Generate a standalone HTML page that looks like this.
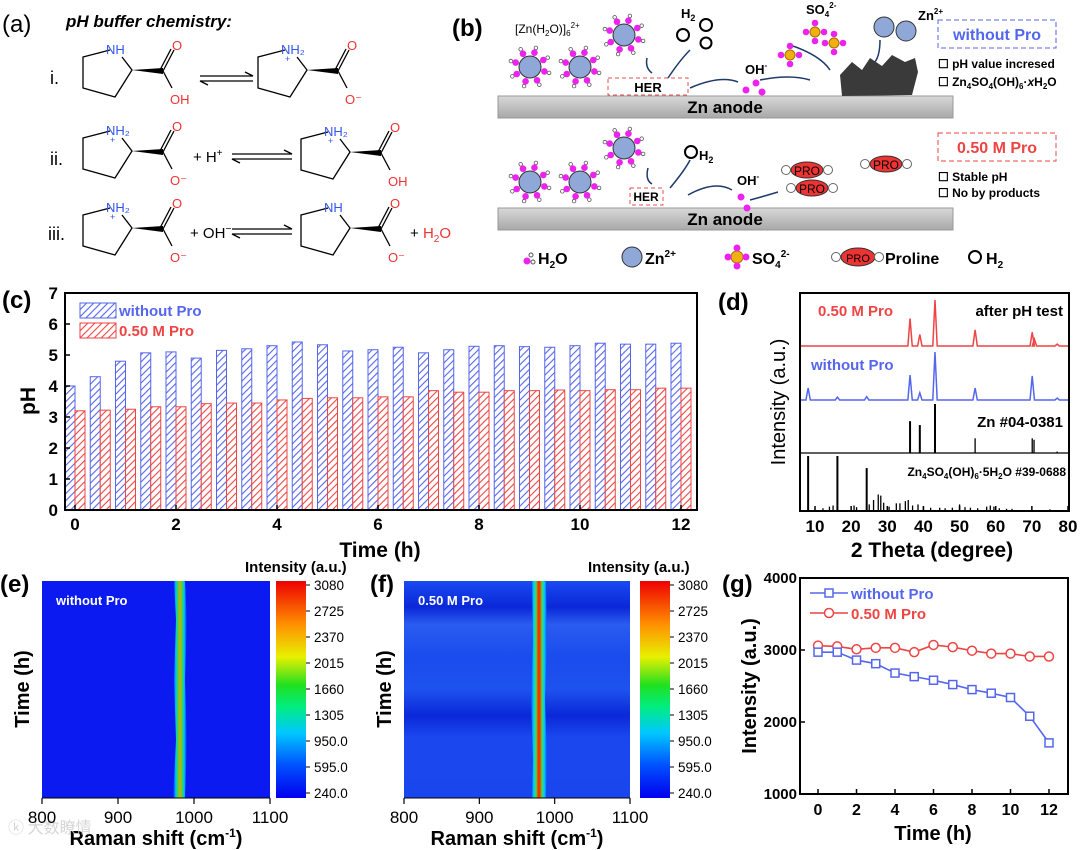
<!DOCTYPE html>
<html><head><meta charset="utf-8"><style>
body{margin:0;background:#fff;}
svg{display:block;font-family:"Liberation Sans",Arial,sans-serif;}
.b{font-weight:bold;}
</style></head><body>
<svg id="root" width="1080" height="850" viewBox="0 0 1080 850" xmlns="http://www.w3.org/2000/svg">
<defs>
<pattern id="hb" patternUnits="userSpaceOnUse" width="5" height="5" patternTransform="rotate(45)"><rect width="5" height="5" fill="#fff"/><line x1="0" y1="0" x2="0" y2="5" stroke="#5566ee" stroke-width="2.2"/></pattern>
<pattern id="hr" patternUnits="userSpaceOnUse" width="5" height="5" patternTransform="rotate(45)"><rect width="5" height="5" fill="#fff"/><line x1="0" y1="0" x2="0" y2="5" stroke="#ee4444" stroke-width="2.2"/></pattern>
<linearGradient id="jet" x1="0" y1="1" x2="0" y2="0">
<stop offset="0" stop-color="#0000ee"/><stop offset="0.15" stop-color="#0050ff"/><stop offset="0.3" stop-color="#00c8ff"/><stop offset="0.42" stop-color="#00ee80"/><stop offset="0.52" stop-color="#20e020"/><stop offset="0.65" stop-color="#e8f000"/><stop offset="0.8" stop-color="#ff9000"/><stop offset="1" stop-color="#ee0000"/></linearGradient>
<linearGradient id="peakE" x1="0" y1="0" x2="1" y2="0">
<stop offset="0" stop-color="#0a1af0"/><stop offset="0.2" stop-color="#00c0ff"/><stop offset="0.35" stop-color="#30e040"/><stop offset="0.5" stop-color="#f0a000"/><stop offset="0.65" stop-color="#30e040"/><stop offset="0.8" stop-color="#00c0ff"/><stop offset="1" stop-color="#0a1af0"/></linearGradient>
<linearGradient id="peakF" x1="0" y1="0" x2="1" y2="0">
<stop offset="0" stop-color="#1848f0"/><stop offset="0.18" stop-color="#00d0ff"/><stop offset="0.32" stop-color="#40e040"/><stop offset="0.45" stop-color="#ff3000"/><stop offset="0.55" stop-color="#ff3000"/><stop offset="0.68" stop-color="#40e040"/><stop offset="0.82" stop-color="#00d0ff"/><stop offset="1" stop-color="#1848f0"/></linearGradient>
<linearGradient id="bandF" x1="0" y1="0" x2="0" y2="1">
<stop offset="0" stop-color="#1a4af0"/><stop offset="0.12" stop-color="#0a28d8"/><stop offset="0.2" stop-color="#2a5cf0"/><stop offset="0.35" stop-color="#1a4cee"/><stop offset="0.5" stop-color="#1e52ee"/><stop offset="0.62" stop-color="#0a28d8"/><stop offset="0.72" stop-color="#1a48ee"/><stop offset="1" stop-color="#1a46ee"/></linearGradient>
<linearGradient id="bar" x1="0" y1="0" x2="0" y2="1"><stop offset="0" stop-color="#d8d8d8"/><stop offset="1" stop-color="#a8a8a8"/></linearGradient>
</defs>

<!-- Panel (a) -->
<g>
<text x="2" y="32" font-size="24">(a)</text>
<text x="66" y="27" font-size="17" class="b" font-style="italic">pH buffer chemistry:</text>
<text x="50" y="84" font-size="18">i.</text>
<text x="50" y="165" font-size="18">ii.</text>
<text x="48" y="240" font-size="18">iii.</text>
<g id="mols"></g>
<g stroke="#000" stroke-width="1.3" fill="none">
<path d="M200 76 H253 L245 72"/><path d="M253 81 H200 L208 85"/>
<path d="M232 154 H292 L284 150"/><path d="M292 159 H232 L240 163"/>
<path d="M232 229 H292 L284 225"/><path d="M292 234 H232 L240 238"/>
</g>
<text x="193" y="162" font-size="15">+ H<tspan font-size="10" dy="-6">+</tspan></text>
<text x="190" y="238" font-size="15">+ OH<tspan font-size="10" dy="-6">−</tspan></text>
<text x="410" y="238" font-size="15">+ <tspan fill="#ee3333">H<tspan font-size="10" dy="4">2</tspan><tspan dy="-4">O</tspan></tspan></text>
</g>

<!-- Panel (b) -->
<g>
<text x="452" y="36" font-size="24" class="b">(b)</text>
<rect x="498" y="96" width="455" height="22" fill="url(#bar)" stroke="#999"/>
<text x="725" y="113" font-size="17" class="b" text-anchor="middle">Zn anode</text>
<rect x="498" y="208" width="455" height="22" fill="url(#bar)" stroke="#999"/>
<text x="725" y="225" font-size="17" class="b" text-anchor="middle">Zn anode</text>
<text x="515" y="33" font-size="12">[Zn(H<tspan font-size="8" dy="3">2</tspan><tspan dy="-3">O)]</tspan><tspan font-size="8" dy="3">6</tspan><tspan font-size="8" dy="-8">2+</tspan></text>
<g id="clusters"></g>
<rect x="608" y="78" width="80" height="17" fill="none" stroke="#e05050" stroke-dasharray="4,3"/>
<text x="648" y="92" font-size="13" class="b" text-anchor="middle">HER</text>
<rect x="630" y="188" width="33" height="17" fill="none" stroke="#e05050" stroke-dasharray="4,3"/>
<text x="646" y="201" font-size="12" class="b" text-anchor="middle">HER</text>
<g fill="none" stroke="#000" stroke-width="2">
<circle cx="683" cy="35" r="6"/><circle cx="706" cy="25" r="6"/><circle cx="706" cy="43" r="5.5"/><circle cx="691" cy="152" r="6"/><circle cx="975" cy="257" r="6"/>
</g>
<text x="681" y="18" font-size="13" class="b">H<tspan font-size="9" dy="3">2</tspan></text>
<text x="699" y="160" font-size="13" class="b">H<tspan font-size="9" dy="3">2</tspan></text>
<g fill="none" stroke="#1f3a6a" stroke-width="1.5">
<path d="M647 58 Q645 68 652 73"/><path d="M668 78 Q680 60 690 50"/><path d="M690 88 Q720 75 738 82"/>
<path d="M760 80 Q790 74 810 80"/><path d="M790 45 Q820 55 830 70"/><path d="M880 40 Q880 55 875 62"/>
<path d="M648 168 Q645 180 652 184"/><path d="M670 188 Q685 170 690 160"/><path d="M688 195 Q715 180 732 190"/><path d="M750 200 Q765 196 778 192"/>
</g>
<text x="745" y="74" font-size="13" class="b">OH<tspan font-size="8" dy="-6">-</tspan></text>
<text x="737" y="185" font-size="13" class="b">OH<tspan font-size="8" dy="-6">-</tspan></text>
<g fill="#ee22ee"><circle cx="746" cy="90" r="3.5"/><circle cx="756" cy="83" r="3.5"/><circle cx="762" cy="92" r="3.5"/><circle cx="741" cy="197" r="3.5"/><circle cx="747" cy="208" r="3.5"/></g>
<text x="806" y="14" font-size="13" class="b">SO<tspan font-size="8" dy="3">4</tspan><tspan font-size="8" dy="-9">2-</tspan></text>
<g id="so4"></g>
<circle cx="884" cy="27" r="10" fill="#8fa8d8" stroke="#333"/>
<circle cx="906" cy="31" r="10" fill="#8fa8d8" stroke="#333"/>
<text x="918" y="20" font-size="13" class="b">Zn<tspan font-size="8" dy="-6">2+</tspan></text>
<path d="M840 75 L852 62 L862 70 L870 58 L882 66 L892 55 L905 62 L915 58 L918 72 L912 95 L842 96 Z" fill="#3a3a3a"/>
<rect x="938" y="20" width="118" height="28" fill="none" stroke="#5566ee" stroke-dasharray="5,3"/>
<text x="997" y="40" font-size="16" class="b" fill="#5566ee" text-anchor="middle">without Pro</text>
<text x="938" y="68" font-size="12" class="b">☐ pH value incresed</text>
<text x="938" y="86" font-size="12" class="b">☐ Zn<tspan font-size="8" dy="3">4</tspan><tspan dy="-3">SO</tspan><tspan font-size="8" dy="3">4</tspan><tspan dy="-3">(OH)</tspan><tspan font-size="8" dy="3">6</tspan><tspan dy="-3">·</tspan><tspan font-style="italic">x</tspan>H<tspan font-size="8" dy="3">2</tspan><tspan dy="-3">O</tspan></text>
<rect x="938" y="133" width="118" height="28" fill="none" stroke="#ee4444" stroke-dasharray="5,3"/>
<text x="997" y="153" font-size="16" class="b" fill="#ee4444" text-anchor="middle">0.50 M Pro</text>
<text x="938" y="181" font-size="12" class="b">☐ Stable pH</text>
<text x="938" y="197" font-size="12" class="b">☐ No by products</text>
<g id="pros"></g>
<g>
<circle cx="527" cy="261" r="3.5" fill="#ee22ee"/><circle cx="531" cy="255" r="2" fill="#fff" stroke="#555"/><circle cx="533" cy="262" r="2" fill="#fff" stroke="#555"/>
<text x="538" y="264" font-size="16" class="b">H<tspan font-size="10" dy="4">2</tspan><tspan dy="-4">O</tspan></text>
<circle cx="632" cy="257" r="10" fill="#8fa8d8" stroke="#333"/>
<text x="645" y="264" font-size="16" class="b">Zn<tspan font-size="10" dy="-7">2+</tspan></text>
<circle cx="737" cy="257" r="6" fill="#f0b010" stroke="#a07000"/><circle cx="737" cy="248" r="3.5" fill="#ee22ee"/><circle cx="737" cy="266" r="3.5" fill="#ee22ee"/><circle cx="728" cy="257" r="3.5" fill="#ee22ee"/><circle cx="746" cy="257" r="3.5" fill="#ee22ee"/>
<text x="752" y="264" font-size="16" class="b">SO<tspan font-size="10" dy="4">4</tspan><tspan font-size="10" dy="-11">2-</tspan></text>
<circle cx="836" cy="257" r="4.5" fill="#fff" stroke="#666"/><ellipse cx="858" cy="257" rx="17" ry="9" fill="#ee3333" stroke="#333"/><text x="858" y="262" font-size="11" text-anchor="middle">PRO</text><circle cx="879" cy="257" r="4.5" fill="#fff" stroke="#666"/>
<text x="885" y="264" font-size="16" class="b">Proline</text>
<text x="986" y="264" font-size="16" class="b">H<tspan font-size="10" dy="4">2</tspan></text>
</g>
</g>

<!-- Panel (c) -->
<g>
<text x="2" y="308" font-size="24" class="b">(c)</text>
<g id="cbars"></g>
<rect x="65" y="293" width="632" height="217" fill="none" stroke="#000" stroke-width="2"/>
<g id="caxes"></g>
<rect x="80" y="303" width="36" height="15" fill="url(#hb)" stroke="#5566ee"/>
<text x="119" y="316" font-size="15" class="b" fill="#5566ee">without Pro</text>
<rect x="80" y="323" width="36" height="15" fill="url(#hr)" stroke="#ee4444"/>
<text x="119" y="336" font-size="15" class="b" fill="#ee4444">0.50 M Pro</text>
<text x="380" y="557" font-size="21" class="b" text-anchor="middle">Time (h)</text>
<text transform="translate(35,401) rotate(-90)" font-size="21" class="b" text-anchor="middle">pH</text>
</g>

<!-- Panel (d) -->
<g>
<text x="718" y="310" font-size="24" class="b">(d)</text>
<g id="dplot"></g>
<rect x="800" y="293" width="269" height="218" fill="none" stroke="#000" stroke-width="2"/>
<line x1="800" y1="453" x2="1069" y2="453" stroke="#000" stroke-width="1.2"/>
<text x="818" y="316" font-size="15" class="b" fill="#ee4444">0.50 M Pro</text>
<text x="1063" y="316" font-size="15" class="b" text-anchor="end">after pH test</text>
<text x="811" y="370" font-size="15" class="b" fill="#5566ee">without Pro</text>
<text x="1063" y="427" font-size="15" class="b" text-anchor="end">Zn #04-0381</text>
<text x="1066" y="476" font-size="12" class="b" text-anchor="end">Zn<tspan font-size="8" dy="3">4</tspan><tspan dy="-3">SO</tspan><tspan font-size="8" dy="3">4</tspan><tspan dy="-3">(OH)</tspan><tspan font-size="8" dy="3">6</tspan><tspan dy="-3">·5H</tspan><tspan font-size="8" dy="3">2</tspan><tspan dy="-3">O #39-0688</tspan></text>
<text x="932" y="557" font-size="21" class="b" text-anchor="middle">2 Theta (degree)</text>
<text transform="translate(785,402) rotate(-90)" font-size="20" text-anchor="middle">Intensity (a.u.)</text>
</g>

<!-- Panel (e) -->
<g>
<text x="0" y="592" font-size="24" class="b">(e)</text>
<rect x="42" y="581" width="228" height="217" fill="#0a1af0"/>
<path d="M174 581 L176 620 L174 680 L176 740 L173 798 L185 798 L187 740 L185 680 L187 620 L185 581 Z" fill="url(#peakE)"/>
<text x="56" y="605" font-size="13" class="b" fill="#fff">without Pro</text>
<rect x="276" y="581" width="30" height="217" fill="url(#jet)"/>
<text x="245" y="572" font-size="15" class="b">Intensity (a.u.)</text>
<text transform="translate(29,689) rotate(-90)" font-size="20" class="b" text-anchor="middle">Time (h)</text>
<text x="156" y="845" font-size="20" class="b" text-anchor="middle">Raman shift (cm<tspan font-size="12" dy="-8">-1</tspan><tspan dy="8">)</tspan></text>
<text x="8" y="833" font-size="16" fill="#ccc" opacity="0.8" font-family="'Noto Sans CJK SC',sans-serif">ⓚ 大数瞭情</text>
</g>

<!-- Panel (f) -->
<g>
<text x="370" y="592" font-size="24" class="b">(f)</text>
<rect x="404" y="581" width="226" height="217" fill="url(#bandF)"/>
<path d="M532 581 L533 640 L531 700 L533 760 L532 798 L546 798 L547 760 L545 700 L547 640 L546 581 Z" fill="url(#peakF)"/>
<text x="418" y="605" font-size="13" class="b" fill="#fff">0.50 M Pro</text>
<rect x="640" y="581" width="30" height="217" fill="url(#jet)"/>
<text x="588" y="572" font-size="15" class="b">Intensity (a.u.)</text>
<text transform="translate(391,689) rotate(-90)" font-size="20" class="b" text-anchor="middle">Time (h)</text>
<text x="517" y="845" font-size="20" class="b" text-anchor="middle">Raman shift (cm<tspan font-size="12" dy="-8">-1</tspan><tspan dy="8">)</tspan></text>
</g>
<g id="heatAxes"></g>

<!-- Panel (g) -->
<g>
<text x="722" y="592" font-size="24" class="b">(g)</text>
<rect x="800" y="578" width="268" height="216" fill="none" stroke="#000" stroke-width="2"/>
<g id="gplot"></g>
<text x="933" y="840" font-size="20" class="b" text-anchor="middle">Time (h)</text>
<text transform="translate(756,686) rotate(-90)" font-size="20" class="b" text-anchor="middle">Intensity (a.u.)</text>
</g>
</svg>
<script>
var NS="http://www.w3.org/2000/svg";
function mk(tag,attrs,parent){var e=document.createElementNS(NS,tag);for(var k in attrs)e.setAttribute(k,attrs[k]);parent.appendChild(e);return e;}

var cTimes=[0,0.5,1,1.5,2,2.5,3,3.5,4,4.5,5,5.5,6,6.5,7,7.5,8,8.5,9,9.5,10,10.5,11,11.5,12];
var cWithout=[4.0,4.3,4.8,5.07,5.1,4.9,5.15,5.2,5.3,5.42,5.33,5.13,5.17,5.25,5.07,5.17,5.28,5.3,5.27,5.25,5.3,5.38,5.35,5.35,5.38];
var cPro=[3.2,3.22,3.25,3.33,3.33,3.43,3.45,3.45,3.55,3.6,3.62,3.62,3.65,3.65,3.85,3.8,3.8,3.85,3.85,3.87,3.85,3.88,3.88,3.93,3.93];
var cYTicks=[0,1,2,3,4,5,6,7];
var cXTicks=[0,2,4,6,8,10,12];

var dPro=[[36.3,0.6],[39.0,0.25],[43.2,1.0],[54.3,0.35],[70.1,0.3],[70.7,0.15],[77.0,0.04]];
var dWithout=[[8.1,0.25],[16.2,0.06],[24.3,0.07],[36.3,0.52],[39.0,0.15],[43.2,1.0],[54.3,0.25],[70.1,0.5],[77.0,0.04]];
var dZn=[[36.3,0.65],[39.0,0.57],[43.2,1.0],[54.3,0.3],[70.1,0.3],[70.6,0.27],[77.0,0.03]];
var dZso=[[8.1,1.0],[12.2,0.05],[14.0,0.08],[15.0,0.1],[16.2,1.0],[20.8,0.1],[21.5,0.07],[24.3,0.78],[25.0,0.12],[26.2,0.2],[27.5,0.3],[28.2,0.28],[29.0,0.15],[30.5,0.08],[32.5,0.14],[33.5,0.14],[35.0,0.18],[35.8,0.2],[37.0,0.1],[38.5,0.12],[40.0,0.08],[42.0,0.06],[44.5,0.06],[46.0,0.05],[48.0,0.06],[50.0,0.12],[51.5,0.07],[53.0,0.06],[55.0,0.05],[57.5,0.08],[58.5,0.1],[59.5,0.08],[61.0,0.05],[63.0,0.04],[64.5,0.04],[75.0,0.03]];
var dXTicks=[10,20,30,40,50,60,70,80];

var heatXTicks=[800,900,1000,1100];
var cbarLabels=["240.0","595.0","950.0","1305","1660","2015","2370","2725","3080"];

var gTimes=[0,1,2,3,4,5,6,7,8,9,10,11,12];
var gWithout=[2970,2970,2860,2810,2680,2630,2580,2520,2450,2400,2340,2080,1710];
var gPro=[3060,3050,3010,3030,3030,2970,3070,3040,2990,2950,2950,2910,2910];
var gYTicks=[1000,2000,3000,4000];
var gXTicks=[0,2,4,6,8,10,12];

(function(){
  var g=document.getElementById('cbars'), ax=document.getElementById('caxes');
  function X(t){return 75+t*50.5;} function Y(v){return 510-v*(217/7);}
  var bw=10;
  for(var i=0;i<cTimes.length;i++){
    var b=mk('rect',{x:X(cTimes[i])-bw,y:Y(cWithout[i]),width:bw,height:510-Y(cWithout[i]),fill:'url(#hb)',stroke:'#5566ee','stroke-width':1},g);
    
    
    var r=mk('rect',{x:X(cTimes[i]),y:Y(cPro[i]),width:bw,height:510-Y(cPro[i]),fill:'url(#hr)',stroke:'#ee4444','stroke-width':1},g);
    
    
  }
  cYTicks.forEach(function(v){
    mk('line',{x1:65,x2:70,y1:Y(v),y2:Y(v),stroke:'#000','stroke-width':1.5},ax);
    var t=mk('text',{x:58,y:Y(v)+6,'font-size':17,'font-weight':'bold','text-anchor':'end'},ax);t.textContent=v;
    
    
  });
  cXTicks.forEach(function(v){
    mk('line',{x1:X(v),x2:X(v),y1:510,y2:505,stroke:'#000','stroke-width':1.5},ax);
    var t=mk('text',{x:X(v),y:530,'font-size':17,'font-weight':'bold','text-anchor':'middle'},ax);t.textContent=v;
    
    
  });
})();

(function(){
  var g=document.getElementById('dplot');
  function X(d){return 815+(d-10)*(253/70);}
  function line(peaks,base,h,color,name){
    var sorted=peaks.slice().sort(function(a,b){return a[0]-b[0];});
    var d='M800 '+base;
    sorted.forEach(function(p){var x=X(p[0]);d+=' L'+(x-2.2)+' '+base+' L'+x+' '+(base-p[1]*h)+' L'+(x+2.2)+' '+base;});
    d+=' L1069 '+base;
    var p=mk('path',{d:d,fill:'none',stroke:color,'stroke-width':1.5},g);
    
    
  }
  function sticks(peaks,base,h,name){
    peaks.forEach(function(p){
      var l=mk('line',{x1:X(p[0]),x2:X(p[0]),y1:base,y2:base-p[1]*h,stroke:'#000','stroke-width':p[1]>0.5?2:1.3},g);
      
      
    });
  }
  line(dPro,346,46,'#ee4444','xrd-pro');
  line(dWithout,400,48,'#5566ee','xrd-without');
  sticks(dZn,453,49,'zn-ref-stick');
  sticks(dZso,511,55,'zso-ref-stick');
  dXTicks.forEach(function(v){
    mk('line',{x1:X(v),x2:X(v),y1:511,y2:506,stroke:'#000','stroke-width':1.5},g);
    var t=mk('text',{x:X(v),y:532,'font-size':17,'font-weight':'bold','text-anchor':'middle'},g);t.textContent=v;
    
    
  });
})();

(function(){
  var g=document.getElementById('heatAxes');
  [[42,270,276,314],[404,630,640,678]].forEach(function(p){
    heatXTicks.forEach(function(v){
      var x=p[0]+(v-800)/300*(p[1]-p[0]);
      mk('line',{x1:x,x2:x,y1:798,y2:804,stroke:'#000','stroke-width':1.2},g);
      var t=mk('text',{x:x,y:823,'font-size':17,'text-anchor':'middle'},g);t.textContent=v;
      
      
    });
    mk('line',{x1:p[0],x2:p[1],y1:798,y2:798,stroke:'#000','stroke-width':1},g);
    cbarLabels.forEach(function(s,i){
      var y=793-i*(208/8);
      mk('line',{x1:p[2]+30,x2:p[2]+34,y1:y,y2:y,stroke:'#000'},g);
      var t=mk('text',{x:p[3],y:y+5,'font-size':13.5},g);t.textContent=s;
      
      
    });
  });
})();

(function(){
  var g=document.getElementById('gplot');
  function X(t){return 818+t*(231/12);} function Y(v){return 794-(v-1000)*(216/3000);}
  function series(vals,color,shape,name){
    var d='';vals.forEach(function(v,i){d+=(i?' L':'M')+X(gTimes[i])+' '+Y(v);});
    var p=mk('path',{d:d,fill:'none',stroke:color,'stroke-width':1.6},g);
    
    
    vals.forEach(function(v,i){
      var m=shape==='sq'?mk('rect',{x:X(gTimes[i])-4,y:Y(v)-4,width:8,height:8,fill:'#fff',stroke:color,'stroke-width':1.5},g)
        :mk('circle',{cx:X(gTimes[i]),cy:Y(v),r:4.5,fill:'#fff',stroke:color,'stroke-width':1.5},g);
      
      
    });
  }
  series(gPro,'#ee4444','ci','series-pro');
  series(gWithout,'#5566ee','sq','series-without');
  gYTicks.forEach(function(v){
    mk('line',{x1:800,x2:805,y1:Y(v),y2:Y(v),stroke:'#000','stroke-width':1.5},g);
    var t=mk('text',{x:797,y:Y(v)+5,'font-size':15,'font-weight':'bold','text-anchor':'end'},g);t.textContent=v;
    
    
  });
  gXTicks.forEach(function(v){
    mk('line',{x1:X(v),x2:X(v),y1:794,y2:789,stroke:'#000','stroke-width':1.5},g);
    var t=mk('text',{x:X(v),y:815,'font-size':16,'font-weight':'bold','text-anchor':'middle'},g);t.textContent=v;
    
    
  });
  mk('line',{x1:810,x2:848,y1:593,y2:593,stroke:'#5566ee','stroke-width':1.6},g);
  mk('rect',{x:825,y:589,width:8,height:8,fill:'#fff',stroke:'#5566ee','stroke-width':1.5},g);
  var t1=mk('text',{x:851,y:599,'font-size':15,'font-weight':'bold',fill:'#5566ee'},g);t1.textContent='without Pro';
  
  
  mk('line',{x1:810,x2:848,y1:613,y2:613,stroke:'#ee4444','stroke-width':1.6},g);
  mk('circle',{cx:829,cy:613,r:4.5,fill:'#fff',stroke:'#ee4444','stroke-width':1.5},g);
  var t2=mk('text',{x:851,y:619,'font-size':15,'font-weight':'bold',fill:'#ee4444'},g);t2.textContent='0.50 M Pro';
  
  
})();

(function(){
  var g=document.getElementById('mols');
  function mol(dx,dy,nh2,acid){
    var m=mk('g',{transform:'translate('+dx+','+dy+')'},g);
    
    
    mk('path',{d:'M110 50 L83 57 L83 88 L115 97 L132 70 L122 57',fill:'none',stroke:'#000','stroke-width':1.3},m);
    mk('path',{d:'M132 70 L163 68 L163 74 Z',fill:'#000'},m);
    mk('path',{d:'M163 71 L174 50 M160 70 L171 49 M163 71 L172 88',fill:'none',stroke:'#000','stroke-width':1.3},m);
    var n=mk('text',{x:106,y:54,'font-size':13,fill:'#3355ee'},m);
    n.textContent=nh2?'NH\u2082':'NH';
    if(nh2){var p=mk('text',{x:110,y:62,'font-size':9,fill:'#3355ee'},m);p.textContent='+';}
    var o=mk('text',{x:172,y:50,'font-size':13,fill:'#ee3333'},m);o.textContent='O';
    var o2=mk('text',{x:170,y:104,'font-size':13,fill:'#ee3333'},m);o2.textContent=acid?'OH':'O\u207B';
  }
  mol(0,0,false,true); mol(175,0,true,false);
  mol(0,81,true,false); mol(218,82,true,true);
  mol(0,158,true,false); mol(218,158,false,false);
})();

(function(){
  var g=document.getElementById('clusters');
  function cluster(cx,cy){
    var c=mk('g',{},g);
    
    
    for(var k=0;k<8;k++){var a=k*Math.PI/4+0.3;
      mk('circle',{cx:cx+Math.cos(a)*20,cy:cy+Math.sin(a)*20,r:1.8,fill:'#fff',stroke:'#555','stroke-width':0.8},c);
      mk('circle',{cx:cx+Math.cos(a)*15,cy:cy+Math.sin(a)*15,r:3.3,fill:'#ee22ee'},c);}
    mk('circle',{cx:cx,cy:cy,r:11,fill:'#8fa8d8',stroke:'#333'},c);
  }
  [[530,67],[580,67],[624,35],[530,182],[580,182],[624,148]].forEach(function(p){cluster(p[0],p[1]);});
  var s=document.getElementById('so4');
  [[790,55],[834,43],[815,32]].forEach(function(p){
    [[0,-9],[0,9],[-9,0],[9,0]].forEach(function(o){mk('circle',{cx:p[0]+o[0],cy:p[1]+o[1],r:3.3,fill:'#ee22ee'},s);});
    var q=mk('circle',{cx:p[0],cy:p[1],r:5,fill:'#f0b010',stroke:'#a07000'},s);
    
    
  });
  var pr=document.getElementById('pros');
  [[807,170],[886,164],[812,188]].forEach(function(p){
    var e=mk('g',{},pr);
    
    
    mk('circle',{cx:p[0]-21,cy:p[1],r:4.5,fill:'#fff',stroke:'#666'},e);
    mk('ellipse',{cx:p[0],cy:p[1],rx:16,ry:8,fill:'#ee3333',stroke:'#333'},e);
    var t=mk('text',{x:p[0],y:p[1]+5,'font-size':12,'text-anchor':'middle'},e);t.textContent='PRO';
    mk('circle',{cx:p[0]+21,cy:p[1],r:4.5,fill:'#fff',stroke:'#666'},e);
  });
})();
</script>
</body></html>
